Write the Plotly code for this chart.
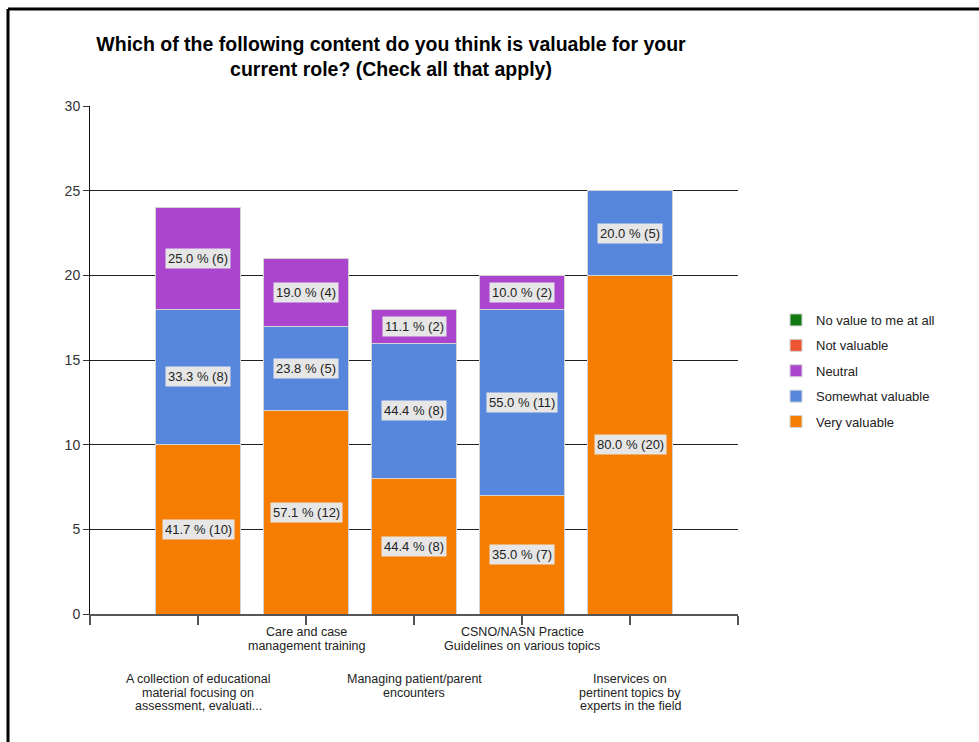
import plotly.graph_objects as go

categories = [
    "A collection of educational<br>material focusing on<br>assessment, evaluati...",
    "Care and case<br>management training",
    "Managing patient/parent<br>encounters",
    "CSNO/NASN Practice<br>Guidelines on various topics",
    "Inservices on<br>pertinent topics by<br>experts in the field",
]
very_valuable = [10, 12, 8, 7, 20]
somewhat_valuable = [8, 5, 8, 11, 5]
neutral = [6, 4, 2, 2, 0]
not_valuable = [0, 0, 0, 0, 0]
no_value = [0, 0, 0, 0, 0]

series = [
    ("Very valuable", very_valuable, "#F47D02"),
    ("Somewhat valuable", somewhat_valuable, "#5787DD"),
    ("Neutral", neutral, "#AC45CE"),
    ("Not valuable", not_valuable, "#EE5533"),
    ("No value to me at all", no_value, "#127A12"),
]

W, H = 979, 742
L, R, T, B = 90, 738, 106, 614
pw, ph = R - L, B - T

xs = list(range(len(categories)))
totals = [sum(s[1][i] for s in series) for i in xs]

FONT = "Liberation Sans, Arial"

fig = go.Figure()
n = len(series)
for k, (name, vals, col) in enumerate(series):
    fig.add_trace(go.Bar(
        x=xs, y=vals, name=name, width=0.79, legendgroup=name,
        legendrank=n - k,
        marker=dict(color=col, line=dict(color="#D4D4D4", width=1)),
        hoverinfo="skip",
    ))

annotations = []
# value labels
for i in xs:
    base = 0
    for name, vals, col in series:
        v = vals[i]
        if v > 0:
            pct = 100.0 * v / totals[i]
            annotations.append(dict(
                x=i, y=base + v / 2, xref="x", yref="y",
                text=f"{pct:.1f} % ({v})", showarrow=False,
                font=dict(family=FONT, size=13, color="#222"),
                bgcolor="#E6E6E6", borderpad=2,
            ))
        base += v


def px_x(p):
    return (p - L) / pw


def px_y(p):
    return (B - p) / ph


# category labels (staggered), one annotation per line for tight spacing
for i, c in enumerate(categories):
    first_center = 632 if i % 2 == 1 else 679
    for k, line in enumerate(c.split("<br>")):
        annotations.append(dict(
            x=i, y=px_y(first_center + k * 13.5), xref="x", yref="paper",
            text=line, showarrow=False, yanchor="middle", xanchor="center",
            font=dict(family=FONT, size=12.5, color="#222"),
        ))

shapes = [
    dict(type="line", xref="paper", yref="paper", x0=px_x(8), x1=px_x(979),
         y0=px_y(9), y1=px_y(9), line=dict(color="black", width=3)),
    dict(type="line", xref="paper", yref="paper", x0=px_x(8), x1=px_x(8),
         y0=px_y(9), y1=px_y(742), line=dict(color="black", width=3)),
]

fig.update_layout(
    width=W, height=H,
    margin=dict(l=L, r=W - R, t=T, b=H - B),
    paper_bgcolor="white", plot_bgcolor="white",
    barmode="stack", bargap=0.21,
    showlegend=True,
    title=dict(
        text="<b>Which of the following content do you think is valuable for your<br>current role? (Check all that apply)</b>",
        x=px_x(391), xref="paper", xanchor="center",
        y=1 - 51 / H, yref="container", yanchor="top",
        font=dict(family=FONT, size=19.5, color="black"),
    ),
    legend=dict(
        x=px_x(776), y=px_y(305), xanchor="left", yanchor="top",
        traceorder="grouped",
        font=dict(family=FONT, size=13, color="#222"),
        itemwidth=30, tracegroupgap=5.5,
        bgcolor="rgba(0,0,0,0)",
    ),
    xaxis=dict(
        range=[-1, 5], tickvals=list(range(-1, 6)), ticktext=[""] * 7,
        showgrid=False, zeroline=False,
        showline=True, linecolor="#555", linewidth=2,
        ticks="outside", ticklen=9, tickcolor="#555", tickwidth=2,
    ),
    yaxis=dict(
        range=[0, 30], tickvals=[0, 5, 10, 15, 20, 25, 30],
        showgrid=True, gridcolor="#222", gridwidth=1,
        zeroline=False,
        showline=True, linecolor="#111", linewidth=1,
        ticks="outside", ticklen=6, tickcolor="#333",
        tickfont=dict(family=FONT, size=14, color="#333"),
    ),
    annotations=annotations,
    shapes=shapes,
    hovermode=False,
)

fig.write_html("out.html", config={"displayModeBar": False},
               post_script="document.body.style.margin='0';")
